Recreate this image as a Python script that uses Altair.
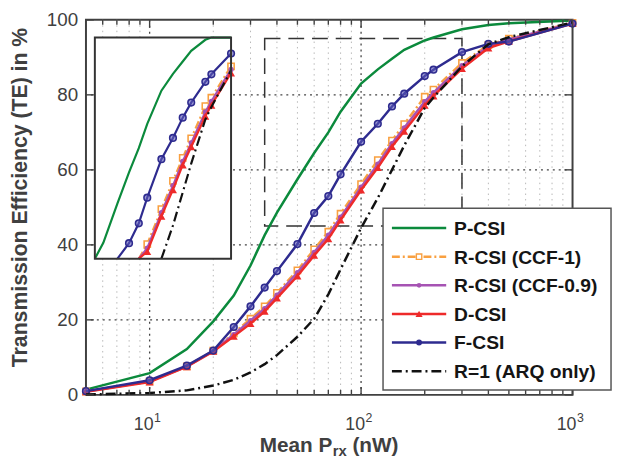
import altair as alt
import pandas as pd

# ---------------- data ----------------
X = [5, 10, 15, 20, 25, 30, 35, 40, 50, 60, 70, 80, 100, 120, 140, 160, 200, 220, 300, 400, 500, 1000]
P_CSI    = [1.4, 5.8, 12.2, 19.6, 26.5, 34.5, 42.6, 48.6, 57.5, 64.5, 70.0, 75.5, 83.0, 86.8, 89.6, 92.0, 94.5, 95.3, 97.5, 98.6, 99.1, 99.8]
R_CSI_1  = [0.9, 3.6, 7.6, 11.8, 16.4, 20.3, 23.6, 27.2, 33.2, 38.8, 43.5, 48.3, 56.2, 62.6, 67.8, 72.2, 79.5, 81.4, 88.5, 93.3, 95.0, 99.2]
R_CSI_09 = [0.9, 3.6, 7.6, 11.7, 16.1, 19.8, 23.0, 26.6, 32.6, 38.0, 42.6, 47.4, 55.4, 61.5, 67.0, 71.2, 78.2, 80.6, 87.8, 93.0, 94.8, 99.1]
D_CSI    = [0.8, 3.4, 7.5, 11.6, 15.6, 19.0, 22.3, 25.8, 31.7, 37.2, 41.6, 46.6, 54.6, 60.6, 66.2, 70.3, 77.2, 79.7, 87.0, 92.5, 94.3, 99.0]
F_CSI    = [1.0, 3.9, 7.8, 11.8, 18.1, 23.6, 28.6, 33.0, 40.2, 48.5, 53.0, 58.8, 67.5, 72.3, 76.9, 80.3, 85.0, 86.7, 91.4, 93.6, 94.2, 99.0]
ARQ      = [0.1, 0.5, 1.2, 2.5, 4.0, 6.0, 8.2, 10.6, 15.5, 20.3, 26.8, 33.5, 44.5, 52.5, 60.0, 66.5, 76.5, 79.3, 87.6, 93.5, 95.4, 99.3]

NAMES = ["P-CSI", "R-CSI (CCF-1)", "R-CSI (CCF-0.9)", "D-CSI", "F-CSI", "R=1 (ARQ only)"]

X_DOMAIN = [5, 1000]
Y_DOMAIN = [0, 100]
X_MAJOR = [10, 100, 1000]
X_EXP = ["1", "2", "3"]
X_MAJOR_GRID = [10, 100]
X_MINOR = [6, 7, 8, 9, 20, 30, 40, 50, 60, 70, 80, 90, 200, 300, 400, 500, 600, 700, 800, 900]
Y_TICKS = [0, 20, 40, 60, 80, 100]
Y_GRID = [20, 40, 60, 80]
ZOOM_X = [35, 300]
ZOOM_Y = [45, 95]

# ---------------- layout / styling ----------------
FONT = "Liberation Sans"
W, H = 493, 380
INSET_X = [9, 147]     # inset frame inside the plot area (px)
INSET_Y = [242, 18]

STYLES = [
    dict(color="#0b8a3c", dash=None, shape=None),
    dict(color="#f9a040", dash=[8, 3, 2, 3], shape="square", filled=False, size=40),
    dict(color="#a653b3", dash=None, shape="circle", filled=True, size=28),
    dict(color="#ee2a2a", dash=None, shape="triangle-up", filled=True, size=65),
    dict(color="#2e2b8f", dash=None, shape="circle", filled=False, size=45),
    dict(color="#111111", dash=[10, 4, 2, 4], shape=None),
]
SERIES = [P_CSI, R_CSI_1, R_CSI_09, D_CSI, F_CSI, ARQ]

xs = alt.Scale(type="log", domain=X_DOMAIN, nice=False)
ys = alt.Scale(domain=Y_DOMAIN, nice=False)
ixs = alt.Scale(type="log", domain=ZOOM_X, range=INSET_X, nice=False, clamp=True)
iys = alt.Scale(domain=ZOOM_Y, range=INSET_Y, nice=False, clamp=True)
one = pd.DataFrame({"a": [0]})


def line_layers(df_line, df_pts, st, xscale, yscale, sw):
    lk = dict(color=st["color"], strokeWidth=sw)
    if st["dash"]:
        lk["strokeDash"] = st["dash"]
    enc = dict(x=alt.X("x:Q", scale=xscale, axis=None),
               y=alt.Y("y:Q", scale=yscale, axis=None))
    out = [alt.Chart(df_line).mark_line(**lk).encode(**enc)]
    if st["shape"]:
        pk = dict(shape=st["shape"], filled=st["filled"], size=st["size"],
                  color=st["color"], opacity=1, strokeWidth=1.6)
        if not st["filled"]:
            pk["fill"] = "white" if st["shape"] == "square" else "#5c58b8"
            pk["fillOpacity"] = 1 if st["shape"] == "square" else 0.6
        out.append(alt.Chart(df_pts).mark_point(**pk).encode(**enc))
    return out


L = []
# ---------------- grid ----------------
L.append(alt.Chart(pd.DataFrame({"x": X_MINOR})).mark_rule(
    color="#b8b8b8", strokeDash=[1.5, 4], strokeWidth=1).encode(
    x=alt.X("x:Q", scale=xs, axis=None)))
L.append(alt.Chart(pd.DataFrame({"x": X_MAJOR_GRID})).mark_rule(
    color="#444", strokeDash=[2, 4], strokeWidth=1.3).encode(
    x=alt.X("x:Q", scale=xs, axis=None)))
L.append(alt.Chart(pd.DataFrame({"y": Y_GRID})).mark_rule(
    color="#444", strokeDash=[2, 4], strokeWidth=1.3).encode(
    y=alt.Y("y:Q", scale=ys, axis=None)))

# dashed zoom rectangle
L.append(alt.Chart(pd.DataFrame({"x": [ZOOM_X[0]], "x2": [ZOOM_X[1]],
                                 "y": [ZOOM_Y[0]], "y2": [ZOOM_Y[1]]})).mark_rect(
    fillOpacity=0, stroke="#333", strokeWidth=1.5, strokeDash=[16, 8]).encode(
    x=alt.X("x:Q", scale=xs, axis=None), x2="x2:Q",
    y=alt.Y("y:Q", scale=ys, axis=None), y2="y2:Q"))

# ---------------- main series ----------------
for vals, st in zip(SERIES, STYLES):
    d = pd.DataFrame({"x": X, "y": vals})
    L += line_layers(d, d, st, xs, ys, 2.5)

# ---------------- inward ticks ----------------
tick_col = "#404040"
for vals, ln in ((X_MAJOR, 8), (X_MINOR, 5)):
    d = pd.DataFrame({"x": vals})
    L.append(alt.Chart(d).mark_rule(color=tick_col, strokeWidth=1.4).encode(
        x=alt.X("x:Q", scale=xs, axis=None), y=alt.value(H), y2=alt.value(H - ln)))
    L.append(alt.Chart(d).mark_rule(color=tick_col, strokeWidth=1.4).encode(
        x=alt.X("x:Q", scale=xs, axis=None), y=alt.value(0), y2=alt.value(ln)))
dy = pd.DataFrame({"y": Y_TICKS})
L.append(alt.Chart(dy).mark_rule(color=tick_col, strokeWidth=1.4).encode(
    y=alt.Y("y:Q", scale=ys, axis=None), x=alt.value(0), x2=alt.value(8)))
L.append(alt.Chart(dy).mark_rule(color=tick_col, strokeWidth=1.4).encode(
    y=alt.Y("y:Q", scale=ys, axis=None), x=alt.value(W), x2=alt.value(W - 8)))

# ---------------- inset (zoom of the dashed box) ----------------
L.append(alt.Chart(one).mark_rect(fill="white").encode(
    x=alt.value(INSET_X[0]), x2=alt.value(INSET_X[1]),
    y=alt.value(INSET_Y[1]), y2=alt.value(INSET_Y[0])))
for vals, st in zip(SERIES, STYLES):
    d = pd.DataFrame({"x": X, "y": vals})
    inside = d[(d.x <= ZOOM_X[1]) & (d.x >= ZOOM_X[0])]
    below = inside[inside.y < ZOOM_Y[0]]
    start = below.x.max() if len(below) else ZOOM_X[0]
    d_line = inside[inside.x >= start]
    d_pts = inside[(inside.y >= ZOOM_Y[0]) & (inside.y <= ZOOM_Y[1])]
    L += line_layers(d_line, d_pts, st, ixs, iys, 2.2)
L.append(alt.Chart(one).mark_rect(fillOpacity=0, stroke="#333", strokeWidth=2).encode(
    x=alt.value(INSET_X[0]), x2=alt.value(INSET_X[1]),
    y=alt.value(INSET_Y[1]), y2=alt.value(INSET_Y[0])))

# ---------------- tick labels ----------------
lab_col = "#404040"
L.append(alt.Chart(dy).mark_text(align="right", baseline="middle", fontSize=19,
                                 color=lab_col, font=FONT).encode(
    y=alt.Y("y:Q", scale=ys, axis=None), x=alt.value(-8), text="y:Q"))
dx = pd.DataFrame({"x": X_MAJOR, "e": X_EXP})
L.append(alt.Chart(dx).mark_text(align="center", baseline="alphabetic", fontSize=18,
                                 color=lab_col, font=FONT, dx=-6).encode(
    x=alt.X("x:Q", scale=xs, axis=None), y=alt.value(H + 36), text=alt.value("10")))
L.append(alt.Chart(dx).mark_text(align="left", baseline="alphabetic", fontSize=12.5,
                                 color=lab_col, font=FONT, dx=4.5).encode(
    x=alt.X("x:Q", scale=xs, axis=None), y=alt.value(H + 27), text="e:N"))

# ---------------- axis titles ----------------
tk = dict(fontWeight="bold", color="#404040", font=FONT, baseline="alphabetic")
TY = H + 58
L.append(alt.Chart(one).mark_text(align="left", fontSize=21, **tk).encode(
    x=alt.value(176), y=alt.value(TY), text=alt.value("Mean P")))
L.append(alt.Chart(one).mark_text(align="left", fontSize=15, **tk).encode(
    x=alt.value(250), y=alt.value(TY + 4), text=alt.value("rx")))
L.append(alt.Chart(one).mark_text(align="left", fontSize=21, **tk).encode(
    x=alt.value(270), y=alt.value(TY), text=alt.value("(nW)")))
L.append(alt.Chart(one).mark_text(align="center", baseline="middle", fontSize=21.5,
                                  angle=270, fontWeight="bold", color="#404040", font=FONT).encode(
    x=alt.value(-66), y=alt.value(180), text=alt.value("Transmission Efficiency (TE) in %")))

# ---------------- legend ----------------
LX0, LX1, LY0, LY1 = 301, 532, 191, 375
L.append(alt.Chart(one).mark_rect(fill="white", stroke="#555", strokeWidth=1.5).encode(
    x=alt.value(LX0), x2=alt.value(LX1), y=alt.value(LY0), y2=alt.value(LY1)))
for i, (name, st) in enumerate(zip(NAMES, STYLES)):
    ry = 211 + i * 29
    rk = dict(color=st["color"], strokeWidth=2.5)
    if st["dash"]:
        rk["strokeDash"] = st["dash"]
    L.append(alt.Chart(one).mark_rule(**rk).encode(
        x=alt.value(310), x2=alt.value(365), y=alt.value(ry)))
    if st["shape"]:
        pk = dict(shape=st["shape"], filled=True, size=st["size"] * 0.8,
                  color=st["color"], opacity=1)
        if st["shape"] == "square":
            pk = dict(shape="square", filled=False, fill="white", fillOpacity=1,
                      size=30, color=st["color"], opacity=1, strokeWidth=1.4)
        L.append(alt.Chart(one).mark_point(**pk).encode(x=alt.value(337.5), y=alt.value(ry)))
    L.append(alt.Chart(one).mark_text(align="left", baseline="middle", fontSize=19.5,
                                      fontWeight="bold", color="#151515", font=FONT).encode(
        x=alt.value(373), y=alt.value(ry + 1), text=alt.value(name)))

chart = alt.layer(*L).resolve_scale(x="independent", y="independent").properties(
    width=W, height=H,
    autosize=alt.AutoSizeParams(type="none"),
    padding={"left": 79, "top": 9, "right": 41, "bottom": 64},
    view=alt.ViewBackground(stroke="#404040", strokeWidth=2),
).configure(font=FONT)

chart.save("out.html", embed_options={"renderer": "svg", "actions": False})
